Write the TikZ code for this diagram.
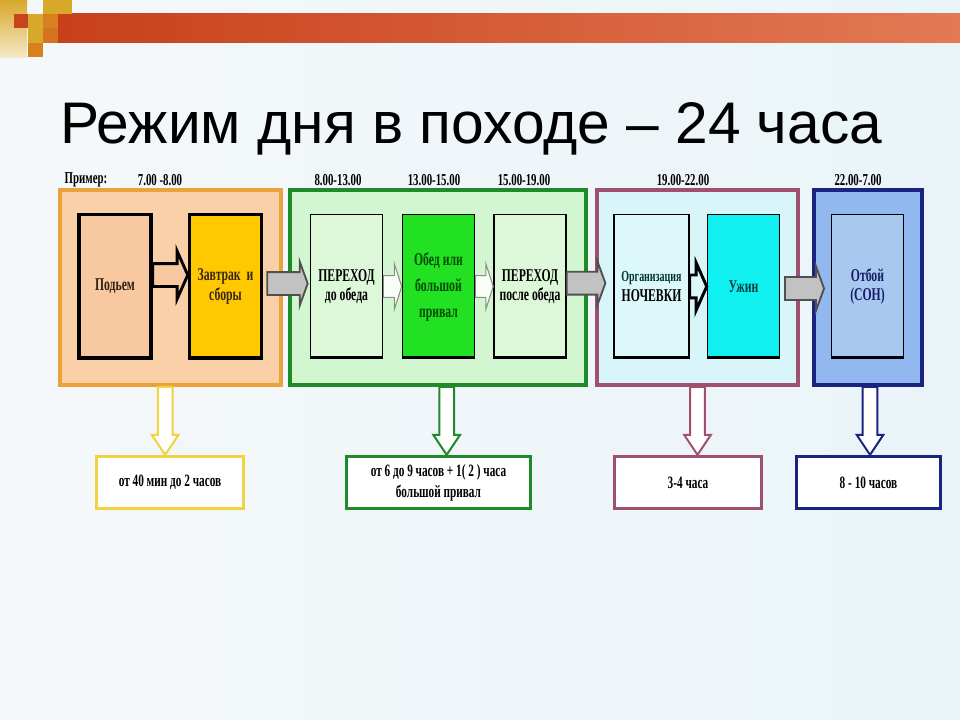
\documentclass[tikz,border=0pt]{standalone}
\usepackage{fontspec}
\setmainfont{Liberation Serif}
\newfontfamily\titlefont{Liberation Sans}
\newfontfamily\narrowfont{Liberation Serif}[FakeStretch=0.65]
\usepackage{xcolor}
\definecolor{Paper}{HTML}{F5F8FA}
\definecolor{PaperBlue}{HTML}{EAF4F8}
\definecolor{BarDark}{HTML}{C8401A}
\definecolor{BarLight}{HTML}{E27A55}
\definecolor{Gold}{HTML}{D8A82A}
\definecolor{Rust}{HTML}{C8441C}
\definecolor{Amber}{HTML}{D8801E}
\definecolor{OrangeLine}{HTML}{EBA23A}
\definecolor{Peach}{HTML}{FAD0A8}
\definecolor{PeachBox}{HTML}{F8C8A0}
\definecolor{Yolk}{HTML}{FFC800}
\definecolor{GreenLine}{HTML}{1E8A2A}
\definecolor{SoftGreen}{HTML}{D2F6D0}
\definecolor{PaleGreen}{HTML}{DDF8D8}
\definecolor{Grass}{HTML}{22E022}
\definecolor{PlumLine}{HTML}{A0506E}
\definecolor{SoftCyan}{HTML}{D8F6FA}
\definecolor{PaleCyan}{HTML}{DDF8F8}
\definecolor{Aqua}{HTML}{10F0F0}
\definecolor{NavyLine}{HTML}{1A2380}
\definecolor{SkyFill}{HTML}{92B8F0}
\definecolor{SkyBox}{HTML}{A8C8F0}
\definecolor{LemonLine}{HTML}{F2D23E}
\definecolor{ArrowGray}{HTML}{C2C2C2}
\definecolor{ArrowEdge}{HTML}{505050}
\usetikzlibrary{calc}

\begin{document}
\begin{tikzpicture}[x=0.75pt,y=-0.75pt,
  group/.style={line width=3pt,minimum height=146pt},
  heavybottom/.style={path picture={\draw[line width=#1] (path picture bounding box.south west) -- (path picture bounding box.south east);}},
  stage/.style={draw=black,line width=1.2pt,heavybottom=4pt,minimum width=54pt,minimum height=108pt,inner sep=1pt,align=center,font=\narrowfont\bfseries\fontsize{13.5}{14.5}\selectfont},
  stagebold/.style={stage,line width=2.6pt},
  result/.style={draw,line width=2.5pt,heavybottom=3pt,fill=white,minimum width=110pt,minimum height=39pt,align=center,font=\narrowfont\bfseries\fontsize{13}{16}\selectfont},
  timelabel/.style={inner sep=0pt,font=\narrowfont\bfseries\fontsize{12.5}{14}\selectfont},
  % block arrow to the right: body half height, head half height, head length
  rarrow/.style n args={3}{to path={let \p1=(\tikztostart),\p2=(\tikztotarget) in
    (\x1,\y1+#1) -- (\x2-#3,\y1+#1) -- (\x2-#3,\y1+#2) -- (\x2,\y1) -- (\x2-#3,\y1-#2) -- (\x2-#3,\y1-#1) -- (\x1,\y1-#1) -- cycle}},
  % block arrow downwards
  darrow/.style n args={3}{to path={let \p1=(\tikztostart),\p2=(\tikztotarget) in
    (\x1-#1,\y1) -- (\x1-#1,\y2+#3) -- (\x1-#2,\y2+#3) -- (\x1,\y2) -- (\x1+#2,\y2+#3) -- (\x1+#1,\y2+#3) -- (\x1+#1,\y1) -- cycle}},
  grayarrow/.style={rarrow={8.6pt}{16.5pt}{6pt},fill=ArrowGray,draw=ArrowEdge,line width=1.4pt},
  hollowarrow/.style={rarrow={8.6pt}{18pt}{8pt},draw=black,line width=2.2pt},
  thinarrow/.style={rarrow={8.2pt}{17pt}{5.5pt},fill=white!85!PaleGreen,draw=black!45,line width=0.8pt},
  downarrow/.style={darrow={5.5pt}{10pt}{15pt},fill=white,line width=1.5pt}
]
  % background and top decoration
  \shade[left color=Paper,right color=PaperBlue] (0,0) rectangle (960,720);
  \shade[top color=Gold,bottom color=Gold!25] (0,0) rectangle (27,58);
  \shade[left color=BarDark,right color=BarLight] (58,14) rectangle (960,43);
  \fill[Rust] (14,14) rectangle (28,28);
  \fill[Gold] (28,14) rectangle (43,28);
  \fill[Gold] (43,0) rectangle (72,14);
  \fill[Amber] (43,14) rectangle (58,28);
  \fill[Gold] (28,28) rectangle (43,43);
  \fill[Amber!80!Rust] (43,28) rectangle (58,43);
  \fill[Amber] (28,43) rectangle (43,57);

  \node[anchor=base west,inner sep=0pt,font=\titlefont\fontsize{44}{50}\selectfont] (title) at (60,144) {Режим дня в походе – 24 часа};

  % time of day
  \node[timelabel] (t0) at (86,180) {Пример:};
  \node[timelabel] (t1) at (160,180) {7.00 -8.00};
  \node[timelabel] (t2) at (338,180) {8.00-13.00};
  \node[timelabel] (t3) at (434,180) {13.00-15.00};
  \node[timelabel] (t4) at (524,180) {15.00-19.00};
  \node[timelabel] (t5) at (683,180) {19.00-22.00};
  \node[timelabel] (t6) at (858,180) {22.00-7.00};

  % day parts
  \node[group,draw=OrangeLine,fill=Peach,minimum width=166pt] (org) at (170.5,287.5) {};
  \node[group,draw=GreenLine,fill=SoftGreen,minimum width=222pt] (grn) at (438,287.5) {};
  \node[group,draw=PlumLine,fill=SoftCyan,minimum width=151pt] (pur) at (697.5,287.5) {};
  \node[group,draw=NavyLine,fill=SkyFill,minimum width=81pt] (blu) at (868,287.5) {};

  \node[stagebold,fill=PeachBox,text=black!75!brown] (pod) at (115,286.5) {Подьем};
  \node[stagebold,fill=Yolk,text=black!70!brown] (zav) at (225.5,286.5) {Завтрак\ \ и\\сборы};
  \node[stage,fill=PaleGreen] (per1) at (346.5,286.5) {ПЕРЕХОД\\до обеда};
  \node[stage,fill=Grass,text=green!30!black,font=\narrowfont\bfseries\fontsize{13.5}{19.5}\selectfont] (obed) at (438.5,286.5) {Обед или\\большой\\привал};
  \node[stage,fill=PaleGreen] (per2) at (530,286.5) {ПЕРЕХОД\\после обеда};
  \node[stage,fill=PaleCyan,minimum width=56pt] (noch) at (651.5,286.5) {{\fontsize{11.5}{13}\selectfont\color{teal!40!black}Организация}\\НОЧЕВКИ};
  \node[stage,fill=Aqua,text=teal!50!black] (uzh) at (743.5,286.5) {Ужин};
  \node[stage,fill=SkyBox,text=NavyLine!80!black] (otb) at (867.5,286.5) {Отбой\\(СОН)};

  % durations
  \node[result,draw=LemonLine] (res1) at (170,482.5) {от 40 мин до 2 часов};
  \node[result,draw=GreenLine,minimum width=138pt] (res2) at (438.5,482.5) {от 6 до 9 часов + 1( 2 ) часа\\большой привал};
  \node[result,draw=PlumLine] (res3) at (688,482.5) {3-4 часа};
  \node[result,draw=NavyLine,minimum width=108pt] (res4) at (868.5,482.5) {8 - 10 часов};

  \draw[hollowarrow,fill=PeachBox] ([yshift=8.6pt]pod.east) to (zav.west);
  \draw[grayarrow] ([xshift=3pt,yshift=2.2pt]zav.east) to ([xshift=-1.5pt]per1.west);
  \draw[thinarrow] (per1.east) to (obed.west);
  \draw[thinarrow] (obed.east) to (per2.west);
  \draw[grayarrow] ([yshift=2.5pt]per2.east) to ([xshift=-6pt]noch.west);
  \draw[hollowarrow,fill=PaleCyan] (noch.east) to (uzh.west);
  \draw[grayarrow] ([xshift=3.5pt,yshift=-1.5pt]uzh.east) to ([xshift=-5pt]otb.west);

  \draw[downarrow,draw=LemonLine] ([xshift=-4pt]org.south) to (res1.north);
  \draw[downarrow,draw=GreenLine] ([xshift=6.5pt]grn.south) to (res2.north);
  \draw[downarrow,draw=PlumLine] (pur.south) to (res3.north);
  \draw[downarrow,draw=NavyLine] ([xshift=1.5pt]blu.south) to (res4.north);
\end{tikzpicture}
\end{document}
